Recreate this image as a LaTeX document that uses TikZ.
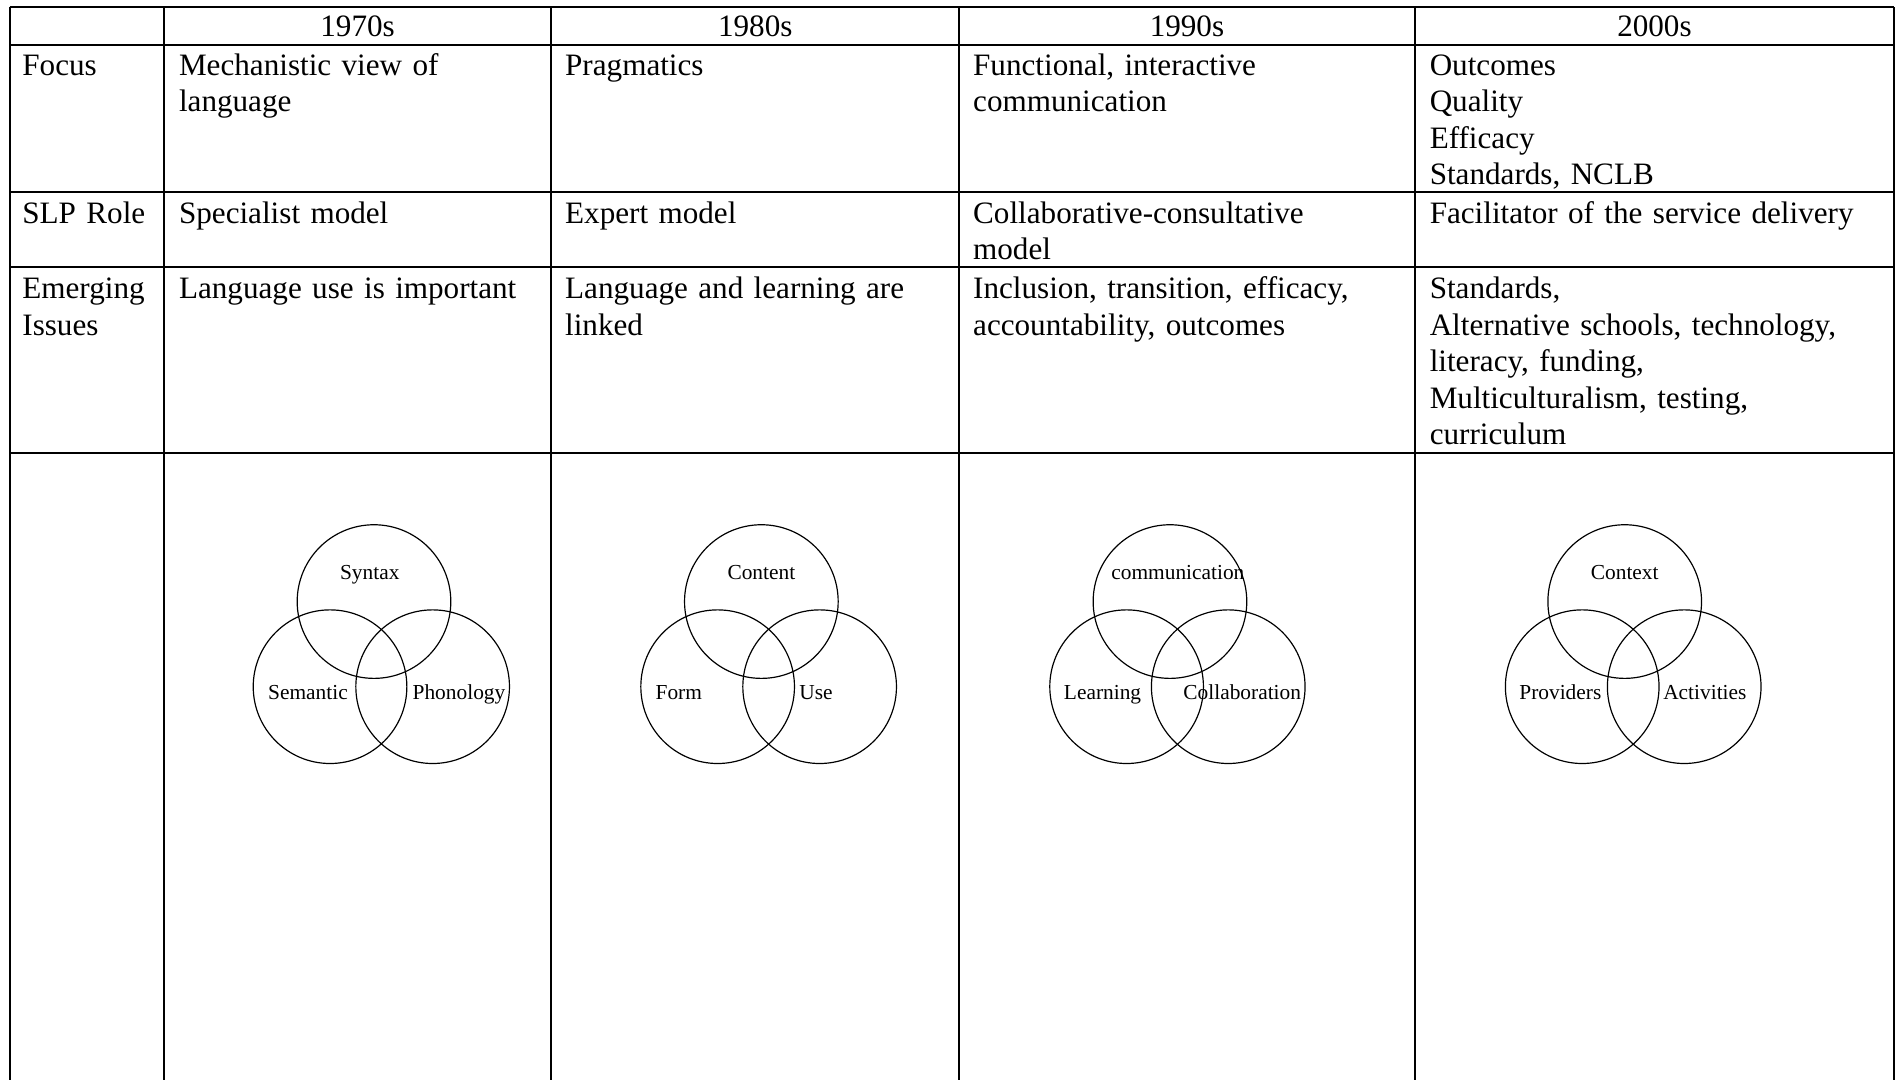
\documentclass[tikz,border=0pt]{standalone}
\usepackage{fontspec}
\setmainfont{Liberation Serif}

\begin{document}
\begin{tikzpicture}[x=0.46pt,y=-0.46pt,
  rule/.style={line width=0.65pt},
  venn/.style={draw,circle,line width=0.45pt,minimum size=58.2pt,inner sep=0pt},
  vlabel/.style={font=\fontsize{8.1}{10}\selectfont,anchor=base,inner sep=0pt},
  head/.style={font=\fontsize{11.8}{13.8}\selectfont,anchor=base,inner sep=0pt},
  cell/.style={font=\fontsize{11.8}{13.8}\selectfont,anchor=base west,inner sep=0pt,
    text width=175pt,align=left}]
\useasboundingbox (0,0) rectangle (1568,889);

% table rules
\foreach \ry in {6,37,158,220,373}
  \draw[rule] (8,\ry) -- (1560,\ry);
\foreach \cx in {8,135,454,790,1165,1560}
  \draw[rule] (\cx,6) -- (\cx,889);

% header row
\draw (294.5,30) node[head](h70) {1970s};
\draw (622,30) node[head](h80) {1980s};
\draw (977.5,30) node[head](h90) {1990s};
\draw (1362.5,30) node[head](h00) {2000s};

% focus row
\draw (18,62) node[cell](focus) {Focus};
\draw (147,62) node[cell](focus70) {Mechanistic view of\\language};
\draw (465,62) node[cell](focus80) {Pragmatics};
\draw (801,62) node[cell](focus90) {Functional, interactive\\communication};
\draw (1177,62) node[cell](focus00) {Outcomes\\Quality\\Efficacy\\Standards, NCLB};

% role row
\draw (18,184) node[cell](role) {SLP Role};
\draw (147,184) node[cell](role70) {Specialist model};
\draw (465,184) node[cell](role80) {Expert model};
\draw (801,184) node[cell](role90) {Collaborative-consultative\\model};
\draw (1177,184) node[cell](role00) {Facilitator of the service delivery};

% issues row
\draw (18,246) node[cell](issues) {Emerging\\Issues};
\draw (147,246) node[cell](issues70) {Language use is important};
\draw (465,246) node[cell](issues80) {Language and learning are\\linked};
\draw (801,246) node[cell](issues90) {Inclusion, transition, efficacy,\\accountability, outcomes};
\draw (1177,246) node[cell](issues00) {Standards,\\Alternative schools, technology,\\literacy, funding,\\Multiculturalism, testing,\\curriculum};

% venn 1970s
\draw (308,495.4) node[venn](syntax) {};
\draw (271.8,565.5) node[venn](semantic) {};
\draw (356.3,565.5) node[venn](phonology) {};
\draw (304.5,477) node[vlabel](syntaxlab) {Syntax};
\draw (253.6,576) node[vlabel](semanticlab) {Semantic};
\draw (378,576) node[vlabel](phonologylab) {Phonology};

% venn 1980s
\draw (627,495.4) node[venn](content) {};
\draw (591,565.5) node[venn](form) {};
\draw (675,565.5) node[venn](use) {};
\draw (627,477) node[vlabel](contentlab) {Content};
\draw (559,576) node[vlabel](formlab) {Form};
\draw (672,576) node[vlabel](uselab) {Use};

% venn 1990s
\draw (963.5,495.4) node[venn](comm) {};
\draw (927.8,565.5) node[venn](learning) {};
\draw (1011.5,565.5) node[venn](collab) {};
\draw (970,477) node[vlabel](commlab) {communication};
\draw (908,576) node[vlabel](learninglab) {Learning};
\draw (1023,576) node[vlabel](collablab) {Collaboration};

% venn 2000s
\draw (1338,495.4) node[venn](context) {};
\draw (1303,565.5) node[venn](providers) {};
\draw (1387,565.5) node[venn](activities) {};
\draw (1338,477) node[vlabel](contextlab) {Context};
\draw (1285,576) node[vlabel](providerslab) {Providers};
\draw (1404,576) node[vlabel](activitieslab) {Activities};
\end{tikzpicture}
\end{document}
